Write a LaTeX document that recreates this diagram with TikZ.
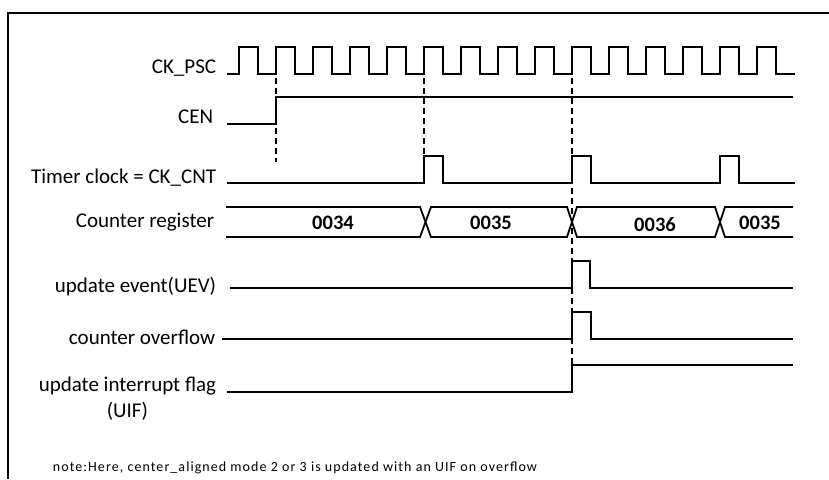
\documentclass[tikz,border=0pt]{standalone}
\usepackage{fontspec}
\setmainfont{Carlito}
\newfontfamily\notefont[LetterSpace=7.6]{Carlito}
\usetikzlibrary{positioning}
\tikzset{
  every picture/.style={line width=1.8pt},
  sig/.style={draw=black, line width=1.8pt, line join=miter},
  sync/.style={draw=black, line width=1.8pt, dash pattern=on 6pt off 4pt},
  lbl/.style={anchor=east, inner sep=0pt, align=center, font=\fontsize{21}{26}\selectfont},
  val/.style={inner sep=0pt, font=\fontsize{20.5}{24}\selectfont\bfseries},
  note/.style={anchor=west, inner sep=0pt, font=\notefont\fontsize{14}{16}\selectfont},
}

\begin{document}
\begin{tikzpicture}[x=1pt, y=-1pt]
  \useasboundingbox (0,0) rectangle (829,479);
  % frame
  \draw (8,479) -- (8,13) -- (829,13);
  % signal names
  \node[lbl] (psc) at (217,68) {CK\_PSC};
  \node[lbl] (cen) at (214,117) {CEN};
  \node[lbl] (cnt) at (217,178) {Timer clock = CK\_CNT};
  \node[lbl] (reg) at (215,222) {Counter register};
  \node[lbl] (uev) at (217,287) {update event(UEV)};
  \node[lbl] (ovf) at (216,337) {counter overflow};
  \node[lbl] (uif) at (217,399) {update interrupt flag\\(UIF)};
  % prescaler clock
  \draw[sig] (227,74) foreach \k in {0,...,14} {
      -- ({239+37*\k},74) -- ({239+37*\k},47) -- ({258+37*\k},47) -- ({258+37*\k},74)} -- (795,74);
  % counter enable
  \draw[sig] (227,124) -- (276,124) -- (276,97) -- (793,97);
  % counter clock
  \draw[sig] (227,183) foreach \k in {5,9,13} {
      -- ({239+37*\k},183) -- ({239+37*\k},156) -- ({258+37*\k},156) -- ({258+37*\k},183)} -- (795,183);
  % counter register bus
  \draw[sig] (226,207) -- (420,207) -- (431,237) -- (567,237) -- (577,207) -- (715,207) -- (725,237) -- (793,237);
  \draw[sig] (226,237) -- (420,237) -- (431,207) -- (567,207) -- (577,237) -- (715,237) -- (725,207) -- (793,207);
  \node[val] (v34) at (333,223) {0034};
  \node[val] (v35) at (491,223) {0035};
  \node[val] (v36) at (655,225) {0036};
  \node[val] (v35b) at (760,223) {0035};
  % update event, overflow, flag
  \draw[sig] (230,288) -- (572,288) -- (572,261) -- (590,261) -- (590,288) -- (793,288);
  \draw[sig] (222,339) -- (572,339) -- (572,312) -- (591,312) -- (591,339) -- (793,339);
  \draw[sig] (227,392) -- (572,392) -- (572,365) -- (793,365);
  % sync marks
  \draw[sync] (276,78) -- (276,162);
  \draw[sync] (424,78) -- (424,156);
  \draw[sync] (572,78) -- (572,365);
  \node[note] (nt) at (52,468) {note:Here, center\_aligned mode 2 or 3 is updated with an UIF on overflow};
\end{tikzpicture}
\end{document}
